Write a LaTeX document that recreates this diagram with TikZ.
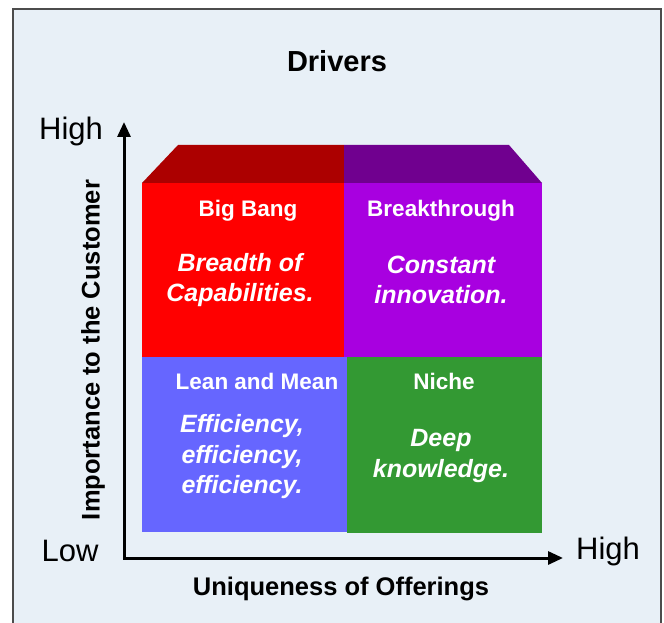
\documentclass[tikz,border=0pt]{standalone}
\usepackage{fontspec}
\setmainfont{Liberation Sans}
\usetikzlibrary{arrows.meta}

\definecolor{panelbg}{HTML}{E8F0F7}
\definecolor{bigbangc}{HTML}{FF0000}
\definecolor{bigbangtop}{HTML}{AC0000}
\definecolor{breakc}{HTML}{A800E0}
\definecolor{breaktop}{HTML}{70008F}
\definecolor{leanc}{HTML}{6666FF}
\definecolor{nichec}{HTML}{339933}

\begin{document}
\begin{tikzpicture}[x=1pt,y=-1pt,
	quad/.style={inner sep=0pt,outer sep=0pt,anchor=north west},
	quadtitle/.style={text=white,font=\bfseries\fontsize{22.5}{24}\selectfont},
	quadtext/.style={text=white,align=center,font=\bfseries\itshape\fontsize{25}{30.5}\selectfont},
	axislabel/.style={font=\fontsize{31}{33}\selectfont},
	axistitle/.style={font=\bfseries\fontsize{25.5}{27}\selectfont}]

	\useasboundingbox (0,0) rectangle (664,623);

	% frame
	\fill [white] (0,0) rectangle (664,623);
	\draw [fill=panelbg, draw=black!70, line width=1.2pt] (13,9) rectangle (661,650);

	% title
	\node [font=\bfseries\fontsize{29}{31}\selectfont] (drivers) at (337,61) {Drivers};

	% top bevel
	\fill [bigbangtop] (142,183) -- (178,145) -- (344,145) -- (344,183) -- cycle;
	\fill [breaktop] (344,183) -- (344,145) -- (509,145) -- (542,183) -- cycle;

	% quadrants
	\node [quad, fill=bigbangc, minimum width=202pt, minimum height=174pt] (bigbang) at (142,183) {};
	\node [quad, fill=breakc, minimum width=198pt, minimum height=174pt] (breakthrough) at (344,183) {};
	\node [quad, fill=leanc, minimum width=205pt, minimum height=175pt] (lean) at (142,357) {};
	\node [quad, fill=nichec, minimum width=195pt, minimum height=176pt] (niche) at (347,357) {};

	% quadrant texts
	\node [quadtitle] (bigbangT) at (248,211) {Big Bang};
	\node [quadtext] (bigbangD) at (240,280) {Breadth of\\Capabilities.};
	\node [quadtitle] (breakT) at (441,211) {Breakthrough};
	\node [quadtext] (breakD) at (441,280) {Constant\\innovation.};
	\node [quadtitle] (leanT) at (257,381) {Lean and Mean};
	\node [quadtext] (leanD) at (242,457) {Efficiency,\\efficiency,\\efficiency.};
	\node [quadtitle] (nicheT) at (444,381) {Niche};
	\node [quadtext] (nicheD) at (441,456) {Deep\\knowledge.};

	% axes
	\coordinate (origin) at (124,558);
	\coordinate (ytip) at (124,122);
	\coordinate (xtip) at (563,558);
	\draw [line width=3pt, {Triangle[length=15pt,width=13pt]}-{Triangle[length=15pt,width=13pt]}] (ytip) -- (origin) -- (xtip);

	\node [axislabel] (yhigh) at (71,131) {High};
	\node [axislabel] (low) at (70,551) {Low};
	\node [axislabel] (xhigh) at (608,551) {High};
	\node [axistitle] (xtitle) at (341,589) {Uniqueness of Offerings};
	\node [axistitle, rotate=90] (ytitle) at (93,350) {Importance to the Customer};

\end{tikzpicture}
\end{document}
